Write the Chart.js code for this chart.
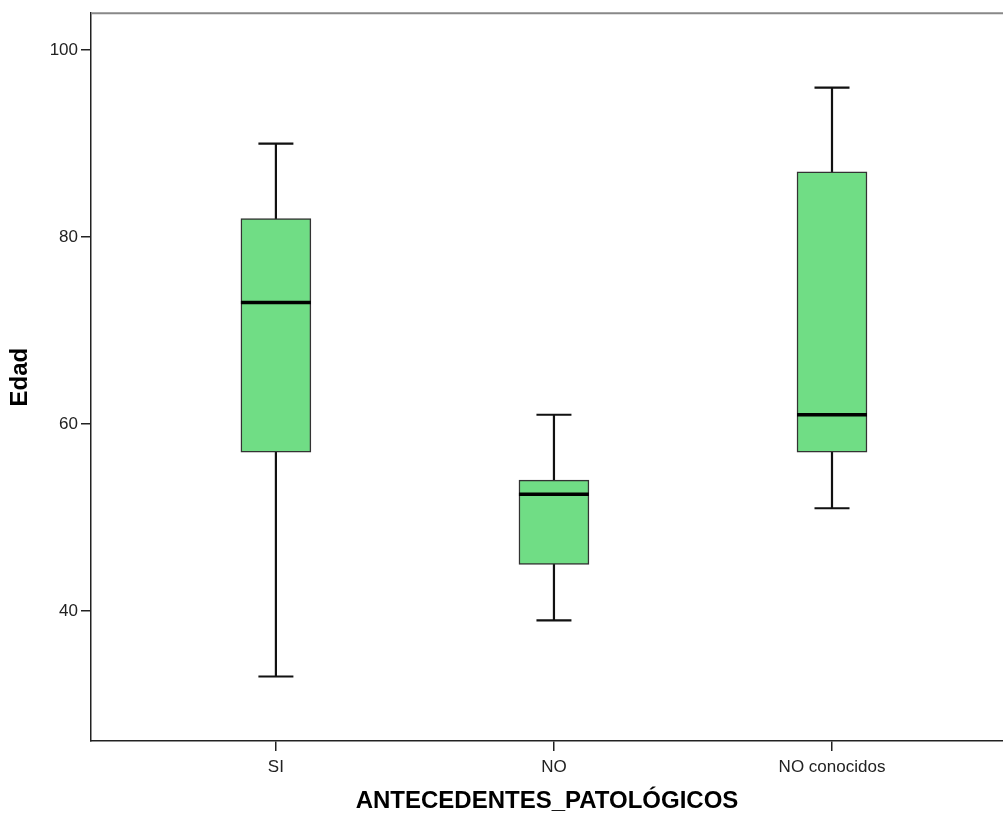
<!DOCTYPE html>
<html>
<head>
<meta charset="utf-8">
<script src="https://cdn.jsdelivr.net/npm/chart.js@4"></script>
<style>
    html, body { margin: 0; padding: 0; background: #fff; }
    #wrap { width: 1003px; height: 816px; }
</style>
</head>
<body>
<div id="wrap"><canvas id="boxChart"></canvas></div>
<script>
// Box plot data
const categories = ['SI', 'NO', 'NO conocidos'];
const whiskerLow  = [33, 39, 51];
const q1          = [57, 45, 57];
const medians     = [73, 52.5, 61];
const q3          = [82, 54, 87];
const whiskerHigh = [90, 61, 96];
const yTicks = [40, 60, 80, 100];

const FONT = '"Liberation Sans", Arial, sans-serif';

// whiskers behind the boxes, medians + top frame line on top
const boxParts = {
    id: 'boxParts',
    beforeDatasetsDraw(chart) {
        const ctx = chart.ctx;
        const x = chart.scales.x, y = chart.scales.y;
        const bars = chart.getDatasetMeta(0).data;
        ctx.save();
        ctx.strokeStyle = '#111';
        ctx.lineWidth = 2.2;
        categories.forEach((c, i) => {
            const px = x.getPixelForValue(i);
            const half = bars[i].width / 4;
            const lo = y.getPixelForValue(whiskerLow[i]);
            const hi = y.getPixelForValue(whiskerHigh[i]);
            ctx.beginPath();
            ctx.moveTo(px, lo); ctx.lineTo(px, hi);
            ctx.moveTo(px - half, lo); ctx.lineTo(px + half, lo);
            ctx.moveTo(px - half, hi); ctx.lineTo(px + half, hi);
            ctx.stroke();
        });
        ctx.restore();
    },
    afterDatasetsDraw(chart) {
        const ctx = chart.ctx;
        const x = chart.scales.x, y = chart.scales.y;
        const bars = chart.getDatasetMeta(0).data;
        const area = chart.chartArea;
        ctx.save();
        ctx.strokeStyle = '#000';
        ctx.lineWidth = 3.5;
        categories.forEach((c, i) => {
            const px = x.getPixelForValue(i);
            const half = bars[i].width / 2;
            const py = y.getPixelForValue(medians[i]);
            ctx.beginPath();
            ctx.moveTo(px - half, py); ctx.lineTo(px + half, py);
            ctx.stroke();
        });
        // top frame line
        ctx.strokeStyle = '#888';
        ctx.lineWidth = 2;
        ctx.beginPath();
        ctx.moveTo(area.left, area.top); ctx.lineTo(area.right, area.top);
        ctx.stroke();
        ctx.restore();
    }
};

new Chart(document.getElementById('boxChart'), {
    type: 'bar',
    data: {
        datasets: [{
            label: 'Edad',
            data: categories.map((c, i) => ({ x: i, y: [q1[i], q3[i]] })),
            backgroundColor: '#70dd85',
            borderColor: '#333',
            borderWidth: 1.5,
            borderSkipped: false,
            barThickness: 70
        }]
    },
    options: {
        responsive: true,
        maintainAspectRatio: false,
        animation: false,
        layout: { padding: { top: 13, right: 0, left: 0, bottom: 0 } },
        plugins: {
            legend: { display: false },
            tooltip: { enabled: false }
        },
        scales: {
            x: {
                type: 'linear',
                offset: false,
                min: -0.665,
                max: 2.615,
                afterBuildTicks(scale) {
                    scale.ticks = categories.map((c, i) => ({ value: i }));
                },
                afterFit(scale) { scale.height = 75; },
                ticks: {
                    callback: v => categories[v],
                    color: '#222',
                    font: { family: FONT, size: 17 },
                    padding: 6,
                    maxRotation: 0
                },
                grid: { offset: false, drawOnChartArea: false, tickLength: 10, color: '#222', lineWidth: 1.5 },
                border: { color: '#222', width: 1.5 },
                title: {
                    display: true,
                    text: 'ANTECEDENTES_PATOLÓGICOS',
                    color: '#000',
                    font: { family: FONT, size: 24, weight: 'bold' },
                    padding: { top: 0, bottom: 0 }
                }
            },
            y: {
                min: 26.1,
                max: 103.96,
                afterBuildTicks(scale) {
                    scale.ticks = yTicks.map(v => ({ value: v }));
                },
                afterFit(scale) { scale.width = 91; },
                ticks: {
                    color: '#222',
                    font: { family: FONT, size: 17 },
                    padding: 3
                },
                grid: { drawOnChartArea: false, tickLength: 10, color: '#222', lineWidth: 1.5 },
                border: { color: '#222', width: 1.5 },
                title: {
                    display: true,
                    text: 'Edad',
                    color: '#000',
                    font: { family: FONT, size: 24, weight: 'bold' },
                    padding: { top: 6, bottom: 0 }
                }
            }
        }
    },
    plugins: [boxParts]
});
</script>
</body>
</html>
